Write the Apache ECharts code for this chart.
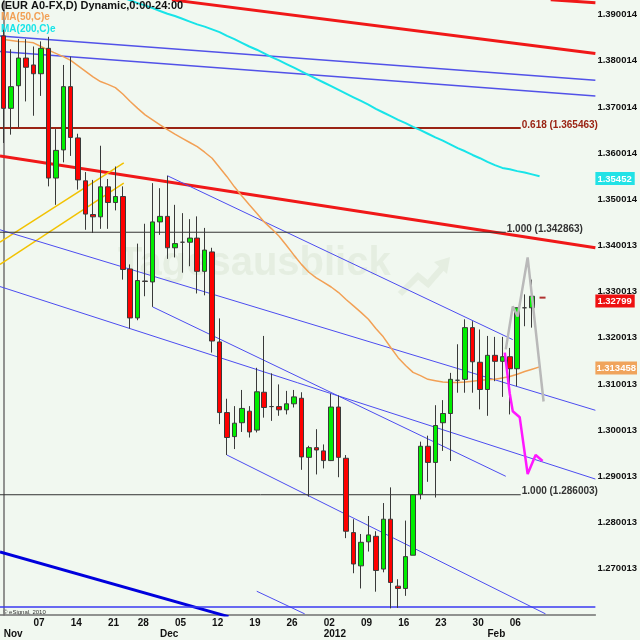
<!DOCTYPE html>
<html>
<head>
<meta charset="utf-8">
<script src="https://cdn.jsdelivr.net/npm/echarts@6/dist/echarts.min.js"></script>
<style>
html, body { margin: 0; padding: 0; background: #f1f8f0; }
#chart { width: 640px; height: 640px; }
</style>
</head>
<body>
<div id="chart"></div>
<script>
// trading days (72) + a few empty days on the right for the projection
const dates = [
  '2011-11-01','2011-11-02','2011-11-03','2011-11-04',
  '2011-11-07','2011-11-08','2011-11-09','2011-11-10','2011-11-11',
  '2011-11-14','2011-11-15','2011-11-16','2011-11-17','2011-11-18',
  '2011-11-21','2011-11-22','2011-11-23','2011-11-25',
  '2011-11-28','2011-11-29','2011-11-30','2011-12-01','2011-12-02',
  '2011-12-05','2011-12-06','2011-12-07','2011-12-08','2011-12-09',
  '2011-12-12','2011-12-13','2011-12-14','2011-12-15','2011-12-16',
  '2011-12-19','2011-12-20','2011-12-21','2011-12-22','2011-12-23',
  '2011-12-26','2011-12-27','2011-12-28','2011-12-29','2011-12-30',
  '2012-01-02','2012-01-03','2012-01-04','2012-01-05','2012-01-06',
  '2012-01-09','2012-01-10','2012-01-11','2012-01-12','2012-01-13',
  '2012-01-16','2012-01-17','2012-01-18','2012-01-19','2012-01-20',
  '2012-01-23','2012-01-24','2012-01-25','2012-01-26','2012-01-27',
  '2012-01-30','2012-01-31','2012-02-01','2012-02-02','2012-02-03',
  '2012-02-06','2012-02-07','2012-02-08','2012-02-09',
  '2012-02-10','2012-02-13','2012-02-14','2012-02-15','2012-02-16',
  '2012-02-17','2012-02-20','2012-02-21'
];

// [open, close, low, high]
const candles = [
  [1.3854, 1.3697, 1.3622, 1.3867], [1.3697, 1.3744, 1.3640, 1.3825],
  [1.3746, 1.3806, 1.3656, 1.3847], [1.3806, 1.3786, 1.3712, 1.3847],
  [1.3791, 1.3772, 1.3681, 1.3831], [1.3772, 1.3827, 1.3724, 1.3842],
  [1.3827, 1.3546, 1.3528, 1.3852], [1.3546, 1.3606, 1.3488, 1.3652],
  [1.3607, 1.3744, 1.3580, 1.3791], [1.3744, 1.3634, 1.3594, 1.3809],
  [1.3633, 1.3542, 1.3521, 1.3642], [1.3540, 1.3468, 1.3434, 1.3559],
  [1.3467, 1.3462, 1.3427, 1.3542], [1.3462, 1.3527, 1.3436, 1.3616],
  [1.3527, 1.3493, 1.3436, 1.3544], [1.3493, 1.3506, 1.3476, 1.3571],
  [1.3506, 1.3348, 1.3326, 1.3528], [1.3349, 1.3243, 1.3220, 1.3359],
  [1.3243, 1.3324, 1.3238, 1.3404], [1.3323, 1.3322, 1.3290, 1.3447],
  [1.3321, 1.3451, 1.3267, 1.3535], [1.3451, 1.3463, 1.3423, 1.3524],
  [1.3463, 1.3395, 1.3371, 1.3551], [1.3395, 1.3404, 1.3374, 1.3488],
  [1.3407, 1.3407, 1.3341, 1.3470], [1.3407, 1.3416, 1.3355, 1.3457],
  [1.3416, 1.3344, 1.3296, 1.3463], [1.3344, 1.3390, 1.3292, 1.3438],
  [1.3386, 1.3193, 1.3168, 1.3395], [1.3191, 1.3038, 1.3013, 1.3242],
  [1.3038, 1.2984, 1.2946, 1.3068], [1.2986, 1.3015, 1.2959, 1.3052],
  [1.3016, 1.3047, 1.2996, 1.3087], [1.3041, 1.2996, 1.2984, 1.3052],
  [1.3000, 1.3083, 1.2995, 1.3135], [1.3082, 1.3049, 1.3027, 1.3204],
  [1.3051, 1.3051, 1.3020, 1.3123], [1.3051, 1.3044, 1.3031, 1.3099],
  [1.3044, 1.3057, 1.3034, 1.3085], [1.3057, 1.3072, 1.3049, 1.3087],
  [1.3069, 1.2942, 1.2914, 1.3082], [1.2941, 1.2962, 1.2856, 1.2966],
  [1.2962, 1.2957, 1.2904, 1.3002], [1.2955, 1.2934, 1.2917, 1.2969],
  [1.2934, 1.3050, 1.2933, 1.3079], [1.3050, 1.2941, 1.2898, 1.3075],
  [1.2939, 1.2781, 1.2766, 1.2946], [1.2778, 1.2710, 1.2690, 1.2807],
  [1.2706, 1.2757, 1.2657, 1.2775], [1.2758, 1.2773, 1.2737, 1.2814],
  [1.2770, 1.2696, 1.2650, 1.2781], [1.2699, 1.2807, 1.2692, 1.2842],
  [1.2807, 1.2670, 1.2614, 1.2876], [1.2662, 1.2657, 1.2615, 1.2677],
  [1.2657, 1.2726, 1.2641, 1.2804], [1.2729, 1.2860, 1.2729, 1.2861],
  [1.2861, 1.2965, 1.2850, 1.2975], [1.2965, 1.2930, 1.2888, 1.2988],
  [1.2930, 1.3010, 1.2854, 1.3054], [1.3016, 1.3036, 1.2955, 1.3065],
  [1.3036, 1.3110, 1.2933, 1.3124], [1.3108, 1.3108, 1.3081, 1.3186],
  [1.3110, 1.3222, 1.3081, 1.3240], [1.3222, 1.3148, 1.3081, 1.3236],
  [1.3147, 1.3088, 1.3045, 1.3218], [1.3088, 1.3162, 1.3031, 1.3204],
  [1.3162, 1.3149, 1.3106, 1.3202], [1.3149, 1.3159, 1.3072, 1.3202],
  [1.3159, 1.3133, 1.3034, 1.3178], [1.3133, 1.3265, 1.3095, 1.3266],
  [1.3265, 1.3265, 1.3225, 1.3294], [1.3265, 1.3290, 1.3222, 1.3326]
];

const ma50 = [
  1.3846, 1.3844, 1.3842, 1.3841, 1.3839, 1.3831, 1.3823, 1.3816, 1.3809, 1.3801,
  1.3789, 1.3777, 1.3765, 1.3755, 1.3749, 1.3742, 1.3728, 1.3712, 1.3697, 1.3683,
  1.3672, 1.3661, 1.3651, 1.3641, 1.3632, 1.3623, 1.3614, 1.3602, 1.3589, 1.3569,
  1.3549, 1.3527, 1.3507, 1.3488, 1.3470, 1.3451, 1.3436, 1.3420, 1.3400, 1.3379,
  1.3359, 1.3342, 1.3330, 1.3320, 1.3310, 1.3298, 1.3283, 1.3269, 1.3255, 1.3240,
  1.3220, 1.3202, 1.3179, 1.3157, 1.3140, 1.3125, 1.3118, 1.3110, 1.3107, 1.3104,
  1.3103, 1.3103, 1.3104, 1.3106, 1.3108, 1.3109, 1.3110, 1.3113, 1.3116, 1.3121,
  1.3127, 1.3132, 1.3137
];

const ma200 = [
  null, null, null, null, null, null, null, null, null, null,
  null, null, null, null, 1.3948, 1.3943, 1.3937, 1.3931, 1.3925, 1.3920,
  1.3914, 1.3908, 1.3902, 1.3897, 1.3891, 1.3885, 1.3879, 1.3874, 1.3868, 1.3862,
  1.3854, 1.3847, 1.3839, 1.3831, 1.3824, 1.3816, 1.3808, 1.3801, 1.3793, 1.3785,
  1.3777, 1.3769, 1.3761, 1.3753, 1.3745, 1.3737, 1.3729, 1.3721, 1.3713, 1.3705,
  1.3696, 1.3688, 1.3680, 1.3672, 1.3665, 1.3657, 1.3650, 1.3642, 1.3634, 1.3627,
  1.3619, 1.3611, 1.3604, 1.3596, 1.3589, 1.3581, 1.3574, 1.3568, 1.3565, 1.3561,
  1.3558, 1.3554, 1.3550
];

// trend lines: [bar index, price] end points
const redTop = [[73.5, 1.3932], [79.5, 1.3926]];
const redUpper = [[22.6, 1.3932], [79.5, 1.3816]];
const redMid = [[-0.5, 1.3594], [79.5, 1.3395]];
const blueUpperA = [[-0.5, 1.3854], [79.5, 1.3758]];
const blueUpperB = [[-0.5, 1.3820], [79.5, 1.3724]];
const goldA = [[-0.5, 1.3407], [16.13, 1.3579]];
const goldB = [[-0.5, 1.3359], [16.13, 1.3535]];
const chanA = [[-0.5, 1.3434], [79.5, 1.3043]];
const chanB = [[-0.5, 1.3311], [79.5, 1.2894]];
const chanTop = [[22, 1.3551], [68.4, 1.3196]];
const chanBot = [[20, 1.3267], [67.46, 1.2900]];
const chanLow = [[30, 1.2946], [72.8, 1.2602]];
const chanLowB = [[34.0, 1.2651], [40.44, 1.2602]];
const blueThick = [[-0.5, 1.2736], [30.2, 1.2596]];
const blueBase = [[-0.5, 1.2617], [79.5, 1.2617]];

// fibonacci levels
const fibLevels = [
  { value: 1.365463, end: 69.47, text: '0.618 (1.365463)', color: '#9a2414', width: 2 },
  { value: 1.342863, end: 67.46, text: '1.000 (1.342863)', color: '#333333', width: 1 },
  { value: 1.286003, end: 69.47, text: '1.000 (1.286003)', color: '#333333', width: 1 }
];

// projected paths
const grayPath = [[67.46, 1.3175], [68.40, 1.3268], [69.06, 1.3246], [70.40, 1.3374], [72.54, 1.3062]];
const pinkPath = [[67.33, 1.3168], [67.99, 1.3080], [68.40, 1.3041], [69.33, 1.3028],
  [70.40, 1.2905], [71.47, 1.2946], [72.41, 1.2933]];
const lastMark = [[72.4, 1.3287]];

const yTicks = [1.270013, 1.280013, 1.290013, 1.300013, 1.310013, 1.320013, 1.330013,
  1.340013, 1.350014, 1.360014, 1.370014, 1.380014, 1.390014];
const tagValues = [1.35452, 1.32799, 1.313458];
const tagColors = ['#22e2e6', '#ee1111', '#f0a45c'];

const font = '"Liberation Sans", Arial, sans-serif';
const orange = '#f2a055';
const cyan = '#18e4e8';

function parseDay(i) {
  return new Date(dates[i] + 'T00:00:00Z');
}
function isTick(i) {
  if (i >= candles.length) return false;
  const d = parseDay(i);
  if (d.getUTCDay() === 1) return true;
  return i === 0 || parseDay(i - 1).getUTCMonth() !== d.getUTCMonth();
}
const monthNames = ['Jan', 'Feb', 'Mar', 'Apr', 'May', 'Jun', 'Jul', 'Aug', 'Sep', 'Oct', 'Nov', 'Dec'];
function dateLabel(i) {
  const d = parseDay(i);
  const day = d.getUTCDay() === 1 ? String(d.getUTCDate()).padStart(2, '0') : ' ';
  let month = '';
  if (i === 0 || parseDay(i - 1).getUTCMonth() !== d.getUTCMonth()) {
    month = d.getUTCMonth() === 0 ? String(d.getUTCFullYear()) : monthNames[d.getUTCMonth()];
  }
  return month ? day + '\n' + month : day;
}

function trend(pts, color, width) {
  return {
    type: 'line', xAxisIndex: 1, yAxisIndex: 0, data: pts, symbol: 'none',
    silent: true, z: 1, lineStyle: { color: color, width: width }
  };
}

const chart = echarts.init(document.getElementById('chart'));

const series = [
  trend(redTop, '#f01818', 3),
  trend(redUpper, '#f01818', 3),
  trend(redMid, '#f01818', 3),
  trend(blueUpperA, '#5252e8', 1.5),
  trend(blueUpperB, '#5252e8', 1.5),
  trend(goldA, '#f2c200', 1.5),
  trend(goldB, '#f2c200', 1.5),
  trend(chanA, '#4c4cf0', 1),
  trend(chanB, '#4c4cf0', 1),
  trend(chanTop, '#4c4cf0', 1),
  trend(chanBot, '#4c4cf0', 1),
  trend(chanLow, '#4c4cf0', 1),
  trend(chanLowB, '#4c4cf0', 1),
  trend(blueThick, '#0000dd', 3),
  trend(blueBase, '#3a3af2', 1.5)
];

fibLevels.forEach(function (f) {
  const s = trend([[-0.5, f.value], [f.end, f.value]], f.color, f.width);
  s.endLabel = {
    show: true, formatter: f.text, color: f.color, fontFamily: font,
    fontWeight: 'bold', fontSize: 10, distance: 1,
    verticalAlign: 'bottom', offset: [0, 2]
  };
  series.push(s);
});

const grayLine = trend(grayPath, '#b9b9b9', 2.5);
const pinkLine = trend(pinkPath, '#ff18ff', 2.5);
grayLine.z = 4;
pinkLine.z = 4;

series.push(
  {
    type: 'line', data: ma200, symbol: 'none', silent: true, z: 2,
    lineStyle: { color: cyan, width: 2 }
  },
  {
    type: 'line', data: ma50, symbol: 'none', silent: true, z: 2,
    lineStyle: { color: orange, width: 1.5 }
  },
  {
    type: 'candlestick', data: candles, barWidth: 5, silent: true, z: 3,
    itemStyle: {
      color: '#00ee00', color0: '#ff0000',
      borderColor: '#3a3a3a', borderColor0: '#3a3a3a', borderWidth: 1
    }
  },
  grayLine,
  pinkLine,
  {
    type: 'scatter', xAxisIndex: 1, data: lastMark, symbol: 'rect',
    symbolSize: [6, 2], itemStyle: { color: '#a00000' }, silent: true, z: 4
  }
);

chart.setOption({
  animation: false,
  backgroundColor: '#f1f8f0',
  title: [
    { text: '(EUR A0-FX,D) Dynamic,0:00-24:00', left: 1, top: 0, padding: 0,
      textStyle: { fontFamily: font, fontSize: 11, fontWeight: 'bold', color: '#111' } },
    { text: 'MA(50,C)e', left: 1, top: 12, padding: 0,
      textStyle: { fontFamily: font, fontSize: 10, fontWeight: 'bold', color: orange } },
    { text: 'MA(200,C)e', left: 1, top: 24, padding: 0,
      textStyle: { fontFamily: font, fontSize: 10, fontWeight: 'bold', color: cyan } }
  ],
  graphic: [
    { type: 'text', left: 118, top: 244, z: -10, silent: true,
      style: { text: 'Tagesausblick', font: 'bold 40px ' + font, fill: '#e5eee1' } },
    { type: 'polyline', z: -10, silent: true,
      shape: { points: [[400, 294], [418, 276], [428, 284], [442, 268]] },
      style: { stroke: '#e5eee1', lineWidth: 6, fill: null } },
    { type: 'polygon', z: -10, silent: true,
      shape: { points: [[434, 262], [450, 257], [447, 274]] },
      style: { fill: '#e5eee1' } },
    { type: 'text', left: 3, top: 609, silent: true,
      style: { text: '\u00a9 eSignal, 2010', font: '6px ' + font, fill: '#333' } }
  ],
  grid: { left: 0, right: 42, top: 0, bottom: 24 },
  xAxis: [
    {
      type: 'category', data: dates, boundaryGap: true,
      axisLine: { lineStyle: { color: '#707070', width: 1.5 } },
      axisTick: { alignWithLabel: true, length: 3, interval: isTick, lineStyle: { color: '#444' } },
      axisLabel: {
        interval: isTick, formatter: function (v, i) { return dateLabel(i); },
        align: 'left', verticalAlign: 'top', margin: 3, lineHeight: 11,
        fontFamily: font, fontSize: 10, fontWeight: 'bold', color: '#111'
      },
      splitLine: { show: false }
    },
    { type: 'value', min: -0.5, max: 79.5, show: false }
  ],
  yAxis: [
    {
      type: 'value', position: 'right', min: 1.259952, max: 1.393171,
      axisLine: { show: true, lineStyle: { color: '#707070', width: 1.5 } },
      axisTick: { show: false }, splitLine: { show: false },
      axisLabel: {
        customValues: yTicks, formatter: function (v) { return v.toFixed(6); },
        margin: 2, fontFamily: font, fontSize: 9.5, fontWeight: 'bold', color: '#111'
      }
    },
    {
      type: 'value', position: 'right', min: 1.259952, max: 1.393171,
      axisLine: { show: false }, axisTick: { show: false }, splitLine: { show: false },
      axisLabel: {
        customValues: tagValues, margin: 0,
        formatter: function (v) {
          const k = tagValues.findIndex(function (t) { return Math.abs(t - v) < 1e-7; });
          return '{t' + k + '|' + String(tagValues[k]) + '}';
        },
        rich: {
          t0: { backgroundColor: tagColors[0], color: '#fff', padding: [2, 3, 1, 2], fontFamily: font, fontSize: 9.5, fontWeight: 'bold' },
          t1: { backgroundColor: tagColors[1], color: '#fff', padding: [2, 3, 1, 2], fontFamily: font, fontSize: 9.5, fontWeight: 'bold' },
          t2: { backgroundColor: tagColors[2], color: '#fff', padding: [2, 1, 1, 1], fontFamily: font, fontSize: 9.5, fontWeight: 'bold' }
        }
      }
    }
  ],
  series: series
});
</script>
</body>
</html>
